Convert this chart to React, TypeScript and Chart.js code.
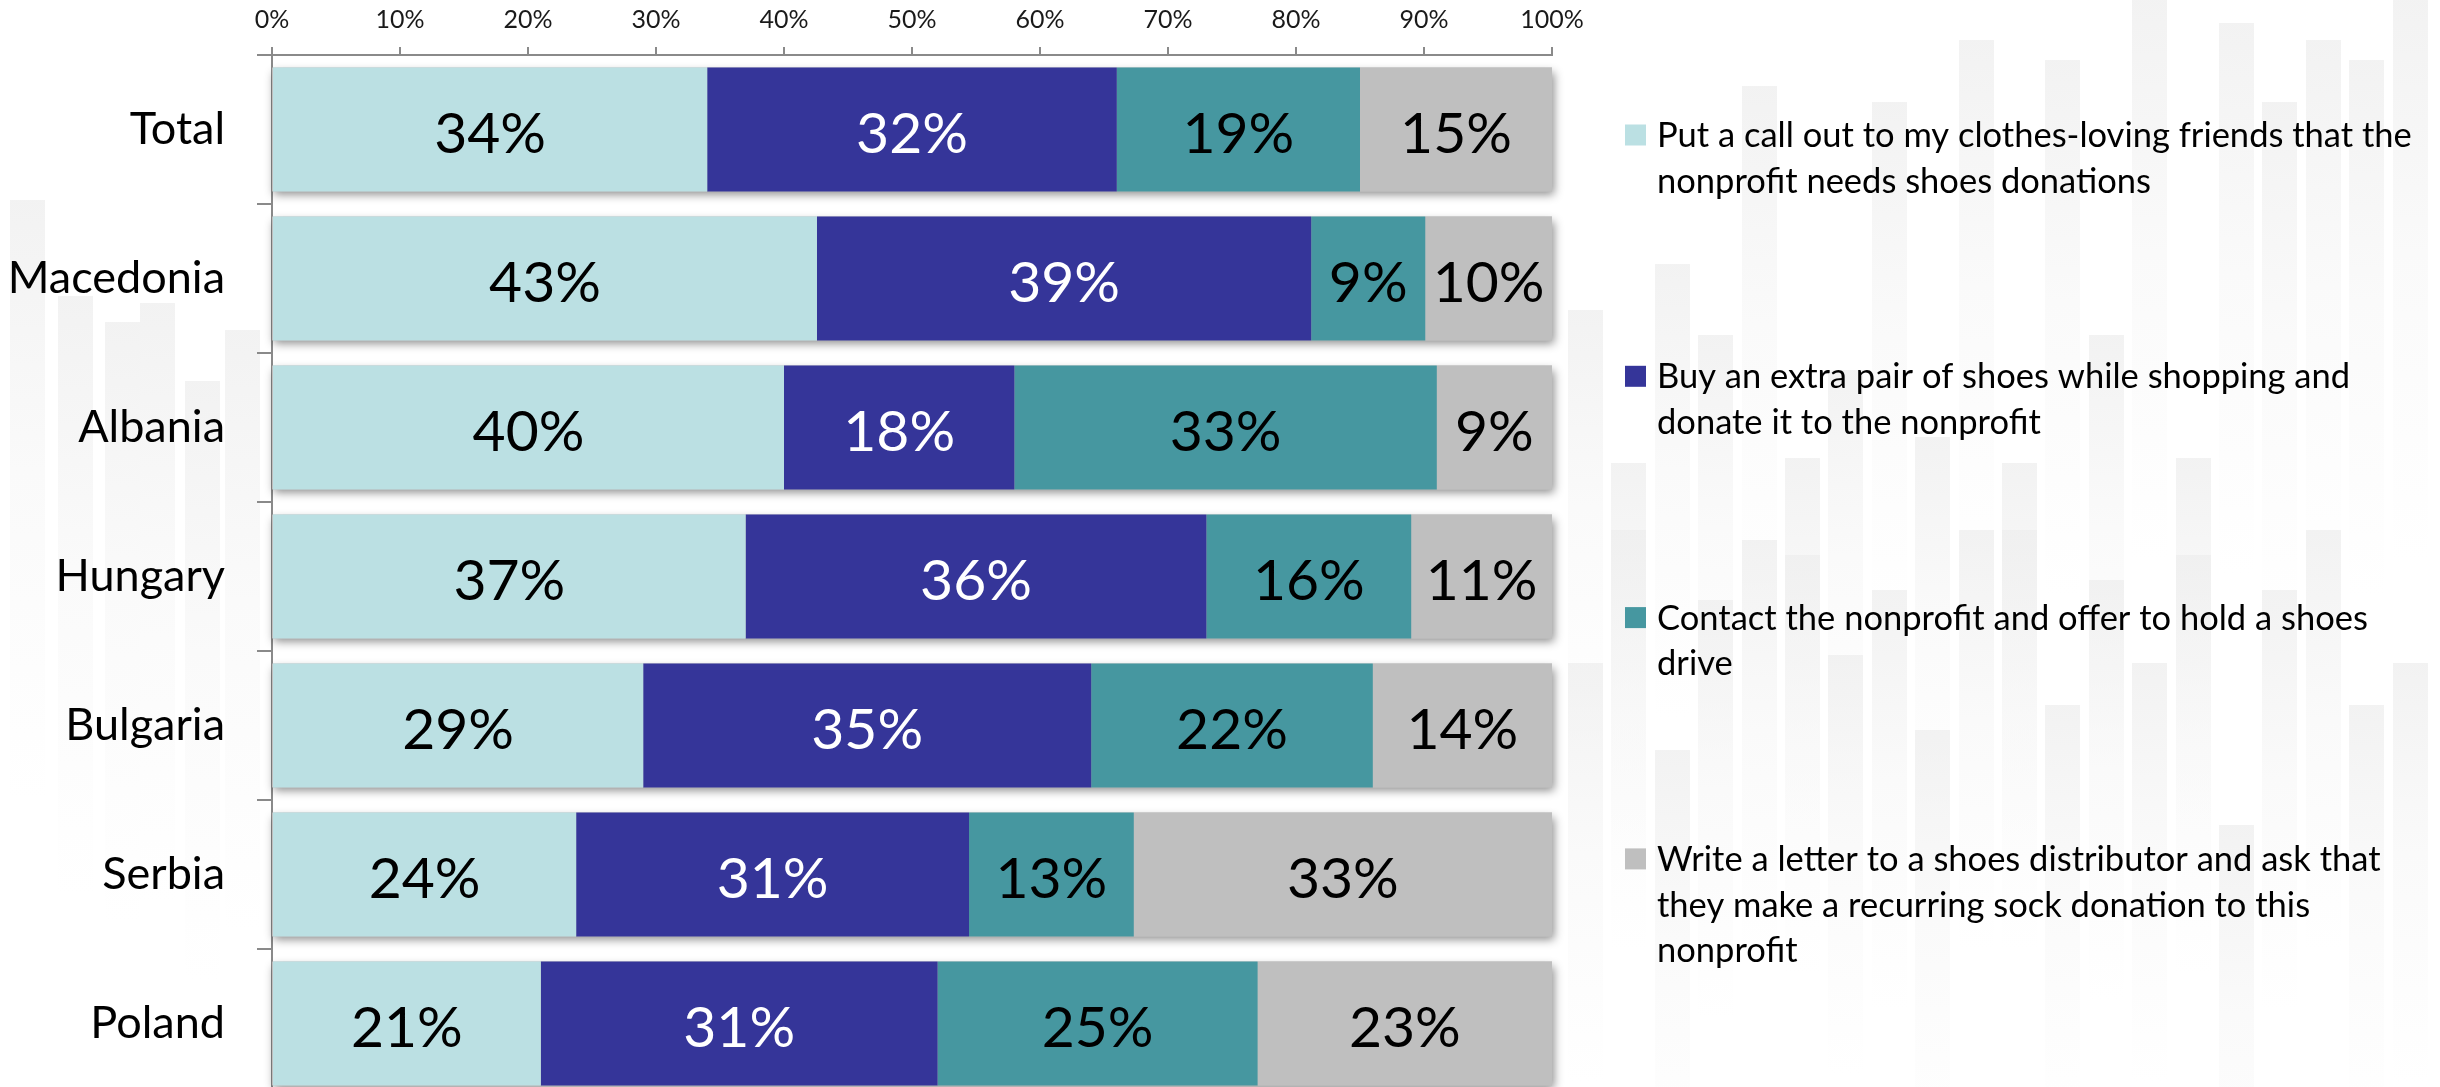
import React, { useEffect, useRef } from "react";
import { Chart, registerables } from "chart.js";

Chart.register(...registerables);

// ---------- data ----------
const categories = ["Total", "Macedonia", "Albania", "Hungary", "Bulgaria", "Serbia", "Poland"];

const seriesNames: string[][] = [
  ["Put a call out to my clothes-loving friends that the", "nonprofit needs shoes donations"],
  ["Buy an extra pair of shoes while shopping and", "donate it to the nonprofit"],
  ["Contact the nonprofit and offer to hold a shoes", "drive"],
  ["Write a letter to a shoes distributor and ask that", "they make a recurring sock donation to this", "nonprofit"],
];

const callOutFriends = [34, 43, 40, 37, 29, 24, 21];
const buyExtraPair = [32, 39, 18, 36, 35, 31, 31];
const holdShoesDrive = [19, 9, 33, 16, 22, 13, 25];
const writeDistributor = [15, 10, 9, 11, 14, 33, 23];

const seriesValues = [callOutFriends, buyExtraPair, holdShoesDrive, writeDistributor];

const xTickValues = [0, 10, 20, 30, 40, 50, 60, 70, 80, 90, 100];

// ---------- styles ----------
const barColors = ["#BBE0E3", "#353599", "#4697A0", "#BFBFBF"];
const labelColors = ["#000000", "#FFFFFF", "#000000", "#000000"];
const FONT = "Lato, 'Open Sans', sans-serif";
const AXIS_COLOR = "#8A8A8A";

// decorative faint background stripes (page styling, not data)
const stripeStartX = 1568;
const stripeStep = 43.4;
const stripeUpperTops = [310, 463, 264, 335, 86, 458, 370, 102, 437, 40, 463, 60, 335, 0, 458, 23, 102, 40, 60, 0];
const stripeLowerTops = [663, 530, 750, 600, 540, 555, 655, 590, 730, 530, 530, 705, 580, 663, 555, 825, 590, 530, 705, 663];
const leftStripeX = [10, 58, 105, 140, 185, 225];
const leftStripeTops = [200, 296, 322, 303, 381, 330];

// 100% stacked shares (like a 100% stacked bar chart)
const totals = categories.map((_, j) => seriesValues.reduce((s, arr) => s + arr[j], 0));
const shares = seriesValues.map((arr) => arr.map((v, j) => (v / totals[j]) * 100));

const shadowPlugin = {
  id: "barShadow",
  beforeDatasetsDraw(chart: any) {
    const meta = chart.getDatasetMeta(0);
    const xs = chart.scales.x;
    const ctx = chart.ctx;
    const x0 = xs.getPixelForValue(0);
    const x1 = xs.getPixelForValue(100);
    ctx.save();
    ctx.shadowColor = "rgba(0,0,0,0.45)";
    ctx.shadowBlur = 9;
    ctx.shadowOffsetX = 2;
    ctx.shadowOffsetY = 4;
    ctx.fillStyle = "#BFBFBF";
    meta.data.forEach((el: any) => {
      const p = el.getProps(["y", "height"], true);
      ctx.fillRect(x0, p.y - p.height / 2, x1 - x0, p.height);
    });
    ctx.restore();
  },
};

const valueLabelPlugin = {
  id: "valueLabels",
  afterDatasetsDraw(chart: any) {
    const ctx = chart.ctx;
    ctx.save();
    ctx.font = `57px ${FONT}`;
    ctx.textAlign = "center";
    ctx.textBaseline = "alphabetic";
    seriesValues.forEach((arr, i) => {
      const meta = chart.getDatasetMeta(i);
      ctx.fillStyle = labelColors[i];
      meta.data.forEach((el: any, j: number) => {
        const c = el.getCenterPoint();
        ctx.fillText(`${arr[j]}%`, c.x, c.y + 23);
      });
    });
    ctx.restore();
  },
};

const legendPlugin = {
  id: "sideLegend",
  afterDraw(chart: any) {
    const ctx = chart.ctx;
    const area = chart.chartArea;
    const boxX = area.right + 73;
    const textX = boxX + 32;
    const firstY = 135;
    const itemGap = 241.3;
    const lineGap = 45.5;
    ctx.save();
    ctx.font = `34.5px ${FONT}`;
    ctx.textAlign = "left";
    ctx.textBaseline = "middle";
    seriesNames.forEach((lines, i) => {
      const y = firstY + i * itemGap;
      ctx.fillStyle = barColors[i];
      ctx.fillRect(boxX, y - 10.5, 21, 21);
      ctx.fillStyle = "#000000";
      lines.forEach((ln, k) => {
        ctx.fillText(ln, textX, y + k * lineGap + 1);
      });
    });
    ctx.restore();
  },
};

const stripeStyle = (left: number, top: number, height: number): React.CSSProperties => ({
  position: "absolute",
  left,
  top,
  width: 35,
  height,
  background: "linear-gradient(to bottom, rgba(238,238,238,0.75) 0%, rgba(245,245,245,0.5) 45%, rgba(255,255,255,0) 100%)",
});

export default function App() {
  const ref = useRef<HTMLCanvasElement | null>(null);

  useEffect(() => {
    document.documentElement.style.overflow = "hidden";
    document.body.style.margin = "0";
    document.body.style.overflow = "hidden";
    if (!ref.current) return;
    const chart = new Chart(ref.current, {
      type: "bar",
      data: {
        labels: categories,
        datasets: shares.map((data, i) => ({
          label: seriesNames[i].join(" "),
          data,
          backgroundColor: barColors[i],
          borderWidth: 0,
          barPercentage: 0.832,
          categoryPercentage: 1,
        })),
      },
      options: {
        indexAxis: "y",
        animation: false,
        responsive: false,
        devicePixelRatio: 1,
        layout: { padding: { left: 0, right: 888, top: 0, bottom: 2 } },
        plugins: {
          legend: { display: false },
          tooltip: { enabled: false },
        },
        scales: {
          x: {
            position: "top",
            stacked: true,
            min: 0,
            max: 100,
            afterBuildTicks: (s: any) => {
              s.ticks = xTickValues.map((v) => ({ value: v }));
            },
            afterFit: (s: any) => {
              s.height = 55;
              s.paddingLeft = 0;
              s.paddingRight = 0;
            },
            ticks: {
              callback: (v: any) => `${v}%`,
              font: { family: FONT, size: 25 },
              color: "#1a1a1a",
              padding: 12,
              maxRotation: 0,
            },
            grid: {
              drawOnChartArea: false,
              drawTicks: true,
              tickLength: 8,
              color: AXIS_COLOR,
              lineWidth: 2,
            },
            border: { display: true, color: AXIS_COLOR, width: 2 },
          },
          y: {
            stacked: true,
            z: 1,
            afterFit: (s: any) => {
              s.width = 272;
              s.paddingTop = 0;
              s.paddingBottom = 0;
            },
            ticks: {
              font: { family: FONT, size: 45 },
              color: "#000000",
              padding: 32,
            },
            grid: {
              drawOnChartArea: false,
              offset: true,
              tickLength: 15,
              color: AXIS_COLOR,
              lineWidth: 2,
            },
            border: { display: true, color: AXIS_COLOR, width: 2 },
          },
        },
      } as any,
      plugins: [shadowPlugin, valueLabelPlugin, legendPlugin],
    });
    return () => chart.destroy();
  }, []);

  return (
    <div style={{ position: "relative", width: 2440, height: 1087, overflow: "hidden", background: "#ffffff" }}>
      {stripeUpperTops.map((t, k) => (
        <div key={`u${k}`} style={stripeStyle(stripeStartX + k * stripeStep, t, 560 - t * 0.4)} />
      ))}
      {stripeLowerTops.map((t, k) => (
        <div key={`l${k}`} style={stripeStyle(stripeStartX + k * stripeStep, t, 420)} />
      ))}
      {leftStripeX.map((x, k) => (
        <div key={`s${k}`} style={stripeStyle(x, leftStripeTops[k], 600)} />
      ))}
      <canvas ref={ref} width={2440} height={1100} style={{ position: "absolute", left: 0, top: 0, width: 2440, height: 1100 }} />
    </div>
  );
}
